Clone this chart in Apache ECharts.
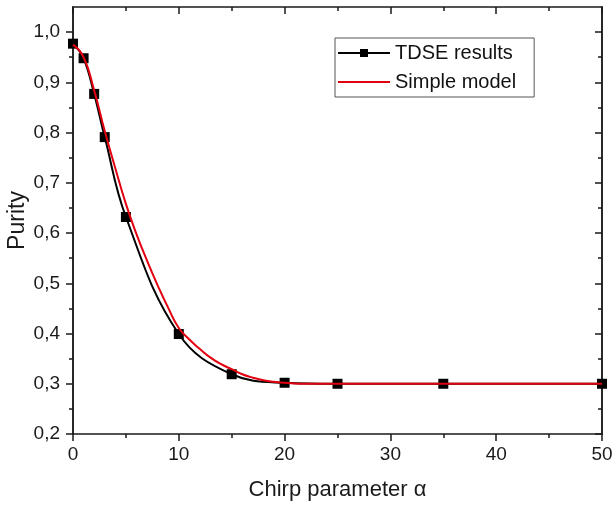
<!DOCTYPE html>
<html>
<head>
<meta charset="utf-8">
<script src="https://cdn.jsdelivr.net/npm/echarts@6/dist/echarts.min.js"></script>
<style>
  html, body { margin: 0; padding: 0; background: #fff; }
  #chart { width: 613px; height: 506px; }
</style>
</head>
<body>
<div id="chart"></div>
<script>
// TDSE 计算结果（带方块标记）
const tdseAlpha = [0, 1, 2, 3, 5, 10, 15, 20, 25, 35, 50];
const tdsePurity = [0.977, 0.948, 0.877, 0.791, 0.632, 0.399, 0.319, 0.302, 0.3, 0.3, 0.3];

// 简单模型曲线
const modelAlpha = [0, 1, 2, 3, 4, 5, 6, 7, 8, 9, 10, 11, 12, 13, 14, 15, 16, 17, 18, 19, 20, 22, 25, 30, 40, 50];
const modelPurity = [0.975, 0.95, 0.884, 0.803, 0.729, 0.658, 0.598, 0.545, 0.496, 0.451, 0.411, 0.388, 0.369, 0.352,
  0.339, 0.329, 0.319, 0.312, 0.307, 0.304, 0.302, 0.3, 0.3, 0.3, 0.3, 0.3];

// 刻度
const yMajorTicks = [0.2, 0.3, 0.4, 0.5, 0.6, 0.7, 0.8, 0.9, 1.0];
const yMinorTicks = [0.25, 0.35, 0.45, 0.55, 0.65, 0.75, 0.85, 0.95];

const AXIS_COLOR = '#1a1a1a';
const FONT = 'Liberation Sans, Arial, sans-serif';

const pair = (xs, ys) => xs.map((x, i) => [x, ys[i]]);

const yAxisBase = (position, inside, ticks, len, showLabel) => ({
  type: 'value',
  position,
  min: 0.2,
  max: 1.05,
  interval: 0.05,
  axisLine: { show: true, lineStyle: { color: AXIS_COLOR, width: 1.5 } },
  axisTick: {
    show: true,
    inside,
    length: len,
    customValues: ticks,
    lineStyle: { color: AXIS_COLOR, width: 1.5 },
  },
  axisLabel: {
    show: showLabel,
    customValues: yMajorTicks,
    margin: 13,
    fontSize: 19,
    fontFamily: FONT,
    color: '#1a1a1a',
    formatter: v => v.toFixed(1).replace('.', ','),
  },
  splitLine: { show: false },
});

const xAxisBase = (position, inside, showLabel) => ({
  type: 'value',
  position,
  min: 0,
  max: 50,
  interval: 10,
  axisLine: { show: true, onZero: false, lineStyle: { color: AXIS_COLOR, width: 1.5 } },
  axisTick: { show: true, inside, length: 7, lineStyle: { color: AXIS_COLOR, width: 1.5 } },
  minorTick: { show: true, splitNumber: 2, length: 4, lineStyle: { color: AXIS_COLOR, width: 1.5 } },
  axisLabel: {
    show: showLabel,
    margin: 11,
    fontSize: 19,
    fontFamily: FONT,
    color: '#1a1a1a',
  },
  splitLine: { show: false },
});

const myChart = echarts.init(document.getElementById('chart'));

const option = {
  backgroundColor: '#fff',
  animation: false,
  grid: { left: 73, right: 11, top: 7, bottom: 72, containLabel: false, outerBoundsMode: 'none' },
  legend: {
    orient: 'vertical',
    left: 335,
    top: 38,
    padding: [5, 18, 5, 2],
    itemGap: 9,
    itemWidth: 52,
    itemHeight: 10,
    borderColor: '#555',
    borderWidth: 1,
    textStyle: { fontSize: 20, fontFamily: FONT, color: '#111' },
    data: ['TDSE results', { name: 'Simple model', itemStyle: { opacity: 0 } }],
  },
  xAxis: [
    Object.assign(xAxisBase('bottom', false, true), {
      name: 'Chirp parameter α',
      nameLocation: 'middle',
      nameGap: 45,
      nameMoveOverlap: false,
      nameTextStyle: { fontSize: 22, fontFamily: FONT, color: '#1a1a1a' },
    }),
    xAxisBase('top', true, false),
  ],
  yAxis: [
    Object.assign(yAxisBase('left', false, yMajorTicks, 7, true), {
      name: 'Purity',
      nameLocation: 'middle',
      nameGap: 44,
      nameMoveOverlap: false,
      nameTextStyle: { fontSize: 23, fontFamily: FONT, color: '#1a1a1a' },
    }),
    yAxisBase('left', false, yMinorTicks, 4, false),
    yAxisBase('right', true, yMajorTicks, 7, false),
    yAxisBase('right', true, yMinorTicks, 4, false),
  ],
  series: [
    {
      name: 'Simple model',
      type: 'line',
      data: pair(modelAlpha, modelPurity),
      smooth: true,
      showSymbol: false,
      symbol: 'none',
      color: '#e3000f',
      lineStyle: { color: '#e3000f', width: 2 },
      z: 3,
    },
    {
      name: 'TDSE results',
      type: 'line',
      data: pair(tdseAlpha, tdsePurity),
      smooth: 0.4,
      symbol: 'rect',
      symbolSize: 10,
      color: '#000',
      lineStyle: { color: '#000', width: 2 },
      itemStyle: { color: '#000' },
      z: 2,
    },
  ],
};

myChart.setOption(option);
</script>
</body>
</html>
